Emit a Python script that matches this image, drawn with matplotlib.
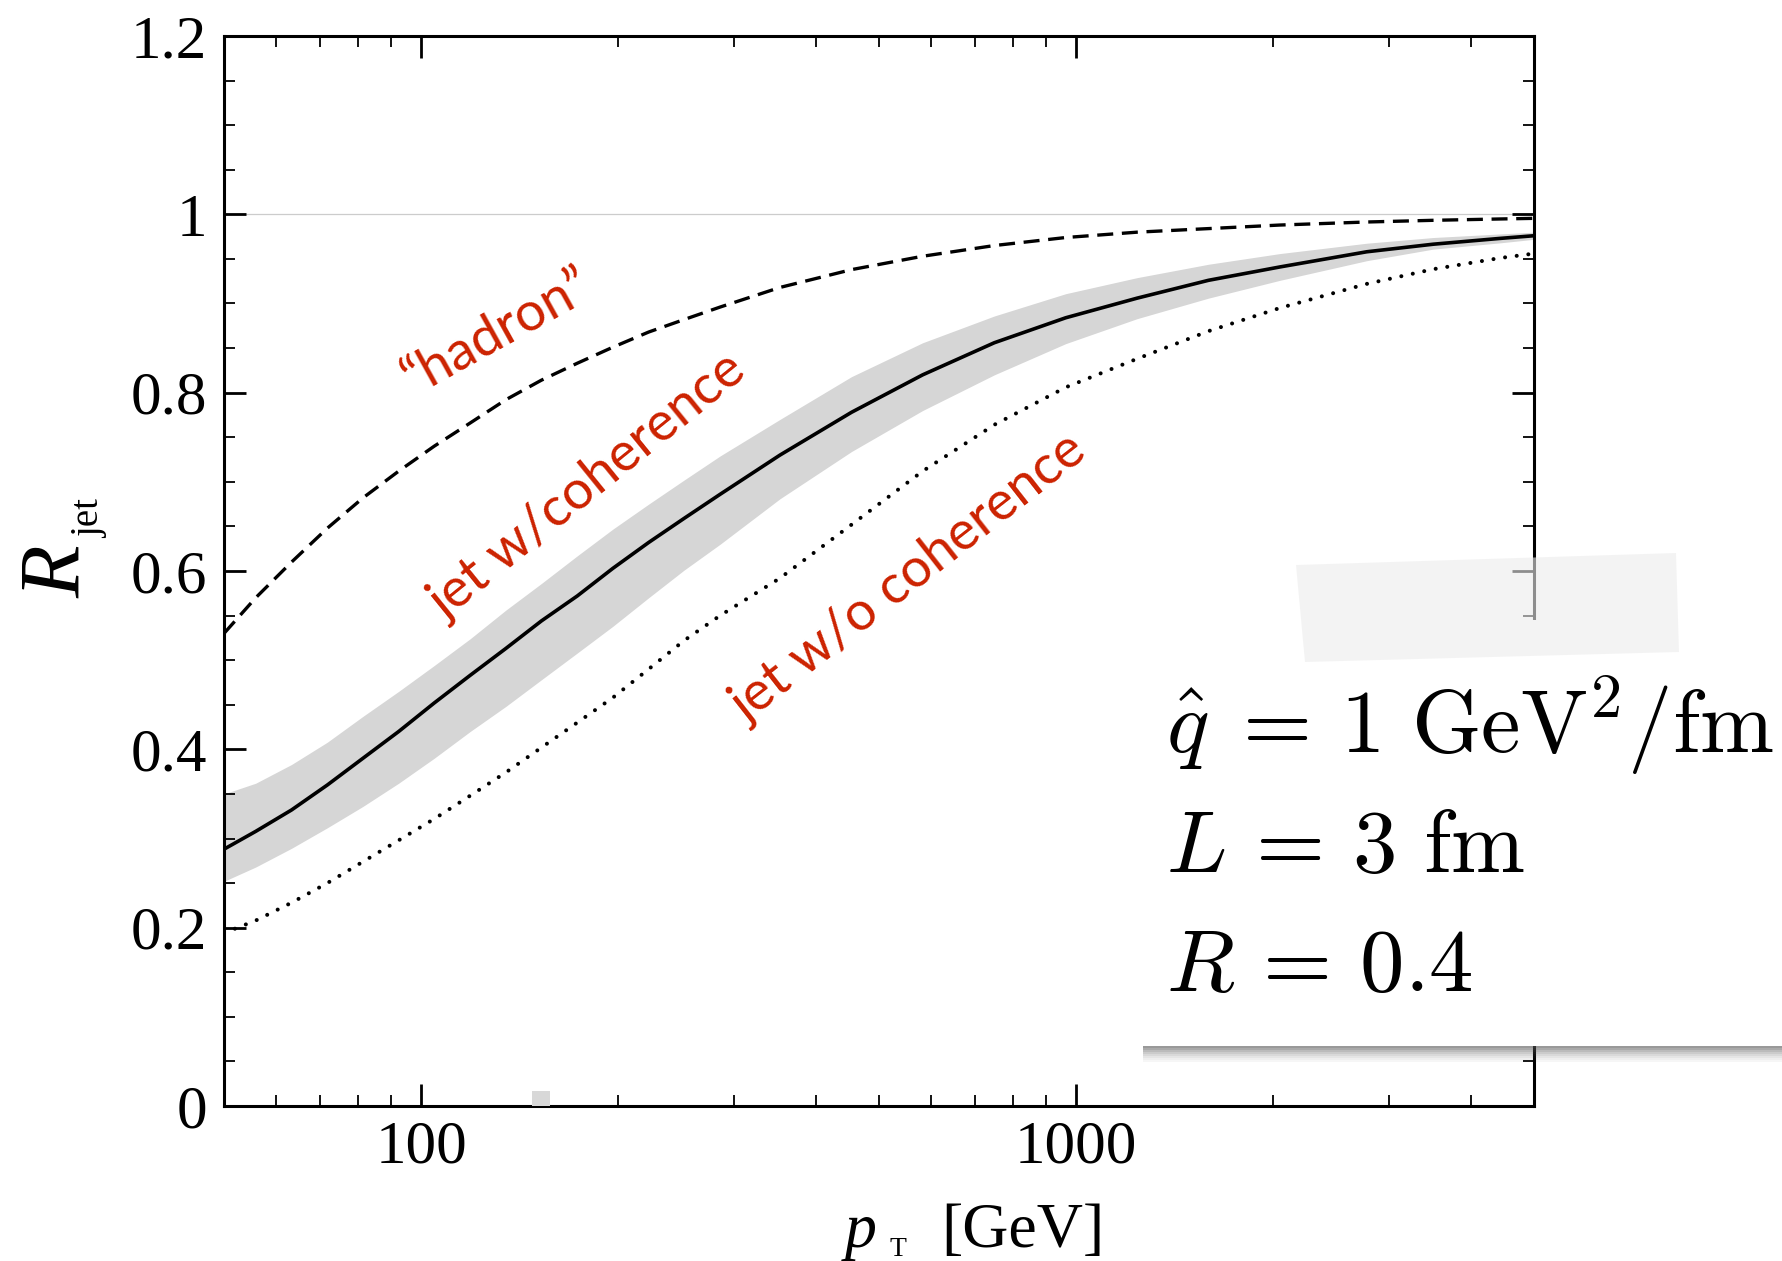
import numpy as np
import matplotlib
matplotlib.use('Agg')
import matplotlib.pyplot as plt
from matplotlib.patches import Rectangle, Polygon
from matplotlib.ticker import LogLocator, FixedLocator, NullFormatter, FixedFormatter, MultipleLocator

# values
pt = [50, 55.9, 63.4, 71.9, 81.5, 92.4, 104.7, 118.8, 134.6, 152.6, 173.1, 196.2, 222.5, 252,
      286, 353, 454, 583, 750, 964, 1239, 1592, 2047, 2777, 3509, 4436, 5000]
r_hadron = [0.530, 0.570, 0.610, 0.648, 0.682, 0.712, 0.740, 0.766, 0.792, 0.814, 0.833, 0.851, 0.868, 0.882,
            0.896, 0.918, 0.938, 0.953, 0.965, 0.974, 0.980, 0.984, 0.988, 0.9914, 0.9933, 0.9948, 0.9955]
r_jet_coh = [0.288, 0.308, 0.332, 0.360, 0.390, 0.420, 0.452, 0.483, 0.513, 0.544, 0.572, 0.603, 0.632, 0.659,
             0.686, 0.730, 0.778, 0.820, 0.856, 0.884, 0.906, 0.926, 0.941, 0.958, 0.9665, 0.973, 0.976]
band_hi = [0.350, 0.362, 0.383, 0.408, 0.437, 0.465, 0.494, 0.524, 0.556, 0.586, 0.617, 0.647, 0.675, 0.702,
           0.729, 0.770, 0.818, 0.856, 0.886, 0.911, 0.929, 0.944, 0.956, 0.9676, 0.974, 0.978, 0.980]
band_lo = [0.252, 0.268, 0.289, 0.312, 0.336, 0.362, 0.390, 0.420, 0.448, 0.478, 0.508, 0.538, 0.570, 0.601,
           0.630, 0.681, 0.734, 0.780, 0.820, 0.855, 0.883, 0.906, 0.926, 0.948, 0.961, 0.968, 0.972]
r_jet_nocoh = [0.194, 0.208, 0.228, 0.250, 0.274, 0.298, 0.322, 0.348, 0.374, 0.402, 0.430, 0.458, 0.490, 0.522,
               0.550, 0.592, 0.652, 0.712, 0.764, 0.806, 0.838, 0.869, 0.895, 0.922, 0.9385, 0.951, 0.956]

x_ticks = [100, 1000]
x_ticklabels = ['100', '1000']
y_ticks = [0, 0.2, 0.4, 0.6, 0.8, 1.0, 1.2]
y_ticklabels = ['0', '0.2', '0.4', '0.6', '0.8', '1', '1.2']

labels = ['\u201chadron\u201d', 'jet w/coherence', 'jet w/o coherence']
label_pos = [(130.6, 0.868, 29), (179.8, 0.695, 39), (555.7, 0.593, 38)]
box_lines = [r'$\hat{q}\;=\,1\ \mathrm{GeV}^2/\mathrm{fm}$',
             r'$L\,=\,3\ \mathrm{fm}$',
             r'$R\,=\,0.4$']

W, H = 1782, 1261
red = '#cc2200'
serif = ['Liberation Serif', 'DejaVu Serif']

fig = plt.figure(figsize=(W / 100, H / 100), dpi=100)
ax = fig.add_axes([224 / W, 1 - 1106 / H, (1534 - 224) / W, (1106 - 36) / H])

ax.fill_between(pt, band_lo, band_hi, color='#d6d6d6', lw=0, zorder=1)
ax.axhline(1.0, color='#cccccc', lw=0.9, zorder=1)
ax.plot(pt, r_hadron, color='black', lw=2.4, dashes=(4.8, 2.6), zorder=3)
ax.plot(pt, r_jet_coh, color='black', lw=2.6, zorder=3)
ax.plot(pt, r_jet_nocoh, color='black', lw=2.9, linestyle=(0, (0.01, 2.9)),
        dash_capstyle='round', zorder=3)

ax.set_xscale('log')
ax.set_xlim(50, 5000)
ax.set_ylim(0, 1.2)

ax.xaxis.set_major_locator(FixedLocator(x_ticks))
ax.xaxis.set_major_formatter(FixedFormatter(x_ticklabels))
ax.xaxis.set_minor_locator(LogLocator(base=10, subs=np.arange(2, 10)))
ax.xaxis.set_minor_formatter(NullFormatter())
ax.yaxis.set_major_locator(FixedLocator(y_ticks))
ax.yaxis.set_major_formatter(FixedFormatter(y_ticklabels))
ax.yaxis.set_minor_locator(MultipleLocator(0.05))

ax.tick_params(which='both', direction='in', top=True, right=True, labelsize=44)
ax.tick_params(which='major', length=16, width=2.0)
ax.tick_params(which='minor', length=8, width=1.3)
ax.tick_params(axis='x', pad=10)
ax.tick_params(axis='y', pad=12)
for lab in ax.get_xticklabels() + ax.get_yticklabels():
    lab.set_family(serif)
for sp in ax.spines.values():
    sp.set_linewidth(2.2)

# axis labels
fig.text(80 / W, 1 - 572 / H, 'R', family=serif, style='italic', fontsize=62,
         rotation=90, rotation_mode='anchor', ha='center', va='baseline')
fig.text(99 / W, 1 - 519 / H, 'jet', family=serif, fontsize=28,
         rotation=90, rotation_mode='anchor', ha='center', va='baseline')
fig.text(845 / W, 1 - 1247 / H, 'p', family=serif, style='italic', fontsize=46,
         ha='left', va='baseline')
fig.text(890 / W, 1 - 1256 / H, 'T', family=serif, fontsize=20,
         ha='left', va='baseline')
fig.text(941 / W, 1 - 1247 / H, '[GeV]', family=serif, fontsize=46,
         ha='left', va='baseline')

# curve annotations
for txt, (xp, yp, rot) in zip(labels, label_pos):
    ax.text(xp, yp, txt, color=red, family=['Lato', 'DejaVu Sans'], fontsize=39,
            rotation=rot, rotation_mode='anchor', ha='center', va='center', zorder=4)

# pasted parameter box with shadow and tape
shade = [0.6, 0.5, 0.4, 0.3, 0.22, 0.15, 0.09, 0.05]
for i, a in enumerate(shade):
    fig.add_artist(Rectangle((1143 / W, 1 - (1046 + 2 * i + 2) / H), (W - 1143) / W, 2 / H,
                             transform=fig.transFigure, color='#555555', alpha=a, lw=0, zorder=5))
fig.add_artist(Rectangle((1143 / W, 1 - 1046 / H), (W - 1143) / W, (1046 - 620) / H,
                         transform=fig.transFigure, facecolor='white', edgecolor='none', zorder=6))
fig.add_artist(Polygon([(1296 / W, 1 - 565 / H), (1676 / W, 1 - 553 / H),
                        (1679 / W, 1 - 652 / H), (1305 / W, 1 - 662 / H)],
                       closed=True, transform=fig.transFigure, facecolor='#ececec',
                       edgecolor='none', alpha=0.6, zorder=7))
fig.add_artist(Rectangle((532 / W, 1 - 1106 / H), 18 / W, 15 / H, transform=fig.transFigure,
                         facecolor='#d8d8d8', edgecolor='none', zorder=2))

for line, yb in zip(box_lines, [752, 872, 991]):
    fig.text(1166 / W, 1 - yb / H, line, fontsize=64, math_fontfamily='cm',
             ha='left', va='baseline', zorder=8)

fig.savefig('out.png', dpi=100)
